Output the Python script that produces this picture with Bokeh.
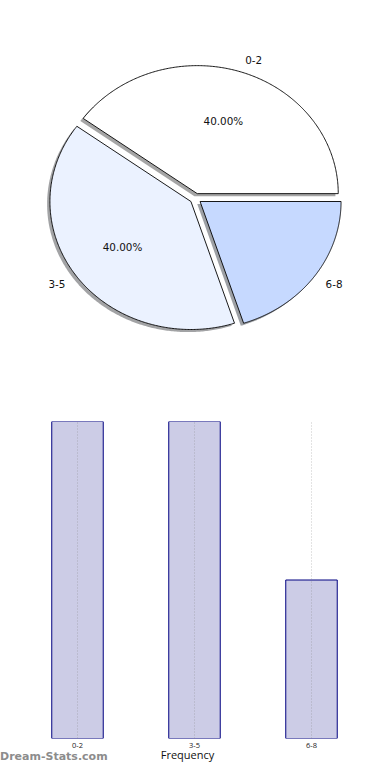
import numpy as np
from bokeh.plotting import figure
from bokeh.models import ColumnDataSource, Range1d, FixedTicker, Div
from bokeh.layouts import column
from bokeh.embed import file_html
from bokeh.resources import INLINE
from bokeh.core.properties import value

# ---- data ----
categories = ["0-2", "3-5", "6-8"]
frequencies = [2, 2, 1]
slice_colors = ["#ffffff", "#ebf2ff", "#c6d9ff"]
explode = [0.04, 0.04, 0.04]
pct_threshold = 25  # autopct only shown for the larger slices
watermark = "Dream-Stats.com"

# ---- pie geometry (from values) ----
total = float(sum(frequencies))
fracs = np.array(frequencies) / total
ends = np.cumsum(fracs) * 2 * np.pi
starts = ends - fracs * 2 * np.pi
mids = (starts + ends) / 2

def hex_to_rgb(h):
    h = h.lstrip("#")
    return tuple(int(h[i:i + 2], 16) for i in (0, 2, 4))

wx, wy, shx, shy, shc = [], [], [], [], []
lab_x, lab_y, lab_t, lab_align = [], [], [], []
pct_x, pct_y, pct_t = [], [], []
for i, cat in enumerate(categories):
    cx = explode[i] * np.cos(mids[i])
    cy = explode[i] * np.sin(mids[i])
    t = np.linspace(starts[i], ends[i], 240)
    px = np.concatenate([[cx], cx + np.cos(t)])
    py = np.concatenate([[cy], cy + np.sin(t)])
    wx.append(px)
    wy.append(py)
    shx.append(px - 0.02)
    shy.append(py - 0.02)
    r, g, b = hex_to_rgb(slice_colors[i])
    shc.append("#%02x%02x%02x" % (int(r * 0.3), int(g * 0.3), int(b * 0.3)))
    lab_x.append(cx + 1.1 * np.cos(mids[i]))
    lab_y.append(cy + 1.1 * np.sin(mids[i]))
    lab_t.append(cat)
    lab_align.append("left" if np.cos(mids[i]) > 0 else "right")
    pct = fracs[i] * 100
    if pct > pct_threshold:
        pct_x.append(cx + 0.6 * np.cos(mids[i]))
        pct_y.append(cy + 0.6 * np.sin(mids[i]))
        pct_t.append("%.2f%%" % pct)

W = 374
PH = 380
rx, ry = 141.0, 128.0
pcx, pcy = 195.0, 198.0   # pie centre in pixels
p1 = figure(width=W, height=PH, output_backend="svg", toolbar_location=None,
            x_range=Range1d(-pcx / rx, (W - pcx) / rx),
            y_range=Range1d(-(PH - pcy) / ry, pcy / ry),
            min_border=0)
p1.axis.visible = False
p1.grid.visible = False
p1.outline_line_color = None

p1.patches(xs=shx, ys=shy, fill_color=shc, fill_alpha=0.5, line_color=None)
p1.patches(xs=wx, ys=wy, fill_color=slice_colors, line_color="black", line_width=0.9)

lab_src = ColumnDataSource(dict(x=lab_x, y=lab_y, t=lab_t, a=lab_align))
p1.text(x="x", y="y", text="t", text_align="a", text_baseline="middle", source=lab_src,
        text_font=value("DejaVu Sans"), text_font_size="10.4px", text_color="#111111")
pct_src = ColumnDataSource(dict(x=pct_x, y=pct_y, t=pct_t))
p1.text(x="x", y="y", text="t", text_align="center", text_baseline="middle", source=pct_src,
        text_font=value("DejaVu Sans"), text_font_size="10.4px", text_color="#111111")

# ---- bar chart ----
BH = 384
xpos = list(range(len(categories)))
x0, dx = 77.0, 117.0
p2 = figure(width=W, height=BH, output_backend="svg", toolbar_location=None,
            x_range=Range1d(-x0 / dx, (W - x0) / dx), y_range=Range1d(0, max(frequencies)),
            min_border_top=41, min_border_bottom=24, min_border_left=0, min_border_right=0)
p2.outline_line_color = None
p2.yaxis.visible = False
p2.ygrid.visible = False
p2.vbar(x=xpos, top=frequencies, bottom=0, width=0.44,
        fill_color="navy", fill_alpha=0.2, line_color="#000080", line_width=1)
p2.xaxis.ticker = FixedTicker(ticks=xpos)
p2.xaxis.major_label_overrides = {i: c for i, c in enumerate(categories)}
p2.xaxis.axis_line_color = None
p2.xaxis.major_tick_line_color = None
p2.xaxis.minor_tick_line_color = None
p2.xaxis.major_tick_out = 0
p2.xaxis.major_tick_in = 0
p2.xaxis.major_label_standoff = 4
p2.xaxis.major_label_text_font = "Open Sans"
p2.xaxis.major_label_text_font_size = "7.5px"
p2.xaxis.major_label_text_color = "#222222"
p2.xaxis.axis_label = "Frequency"
p2.xaxis.axis_label_text_font = "Open Sans"
p2.xaxis.axis_label_text_font_size = "11px"
p2.xaxis.axis_label_text_font_style = "normal"
p2.xaxis.axis_label_text_color = "#111111"
p2.xaxis.axis_label_standoff = -4
p2.xgrid.grid_line_color = "#808080"
p2.xgrid.grid_line_alpha = 0.45
p2.xgrid.grid_line_dash = "1 2"
p2.xgrid.level = "overlay"

wm = Div(text=watermark, width=120, height=14, margin=(-14, 0, 0, 0),
         styles={"color": "#8c8c8c", "font-family": "DejaVu Sans", "font-weight": "bold",
                 "font-size": "11px", "line-height": "14px", "z-index": "5"})

layout = column(p1, p2, wm, spacing=0)
open("out.html", "w").write(file_html(layout, INLINE))
